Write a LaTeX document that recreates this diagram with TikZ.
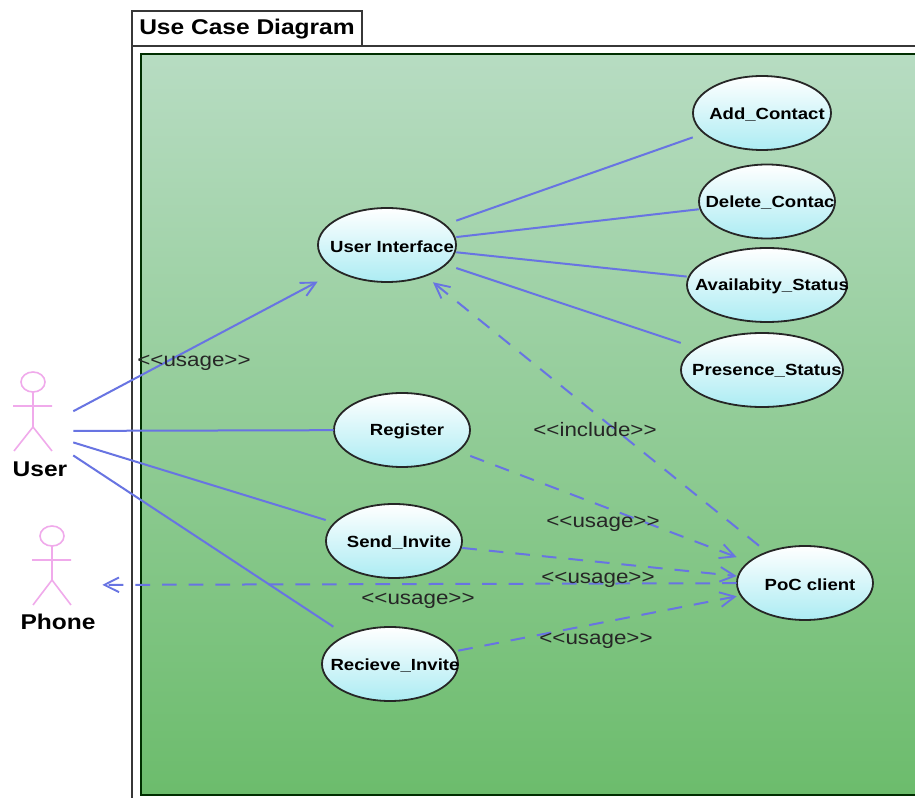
\documentclass[tikz,border=0pt]{standalone}
\usepackage{fontspec}
\setmainfont[FakeStretch=1.15]{Liberation Sans}
\usetikzlibrary{arrows.meta}
\definecolor{linec}{RGB}{104,116,226}
\definecolor{actorc}{RGB}{240,170,235}
\definecolor{topg}{RGB}{183,220,194}
\definecolor{botg}{RGB}{108,188,108}
\definecolor{cyanb}{RGB}{172,236,243}
\definecolor{framec}{RGB}{55,55,55}
\tikzset{
  px/.style={line width=#1*0.75pt},
  uc/.style={rectangle,inner sep=0pt,minimum height=74*0.75pt},
  uctext/.style={font=\bfseries\fontsize{12.1}{13}\selectfont,text=black,inner sep=0pt,yshift=-1pt},
  actorbox/.style={rectangle,inner sep=0pt,minimum height=120*0.75pt},
  actorline/.style={draw=actorc,px=1.6},
  actorname/.style={font=\bfseries\fontsize{16}{18}\selectfont,text=black,inner sep=0pt},
  conn/.style={draw=linec,px=2},
  dep/.style={draw=linec,px=2,dash pattern=on 11pt off 9pt},
  openarrow/.style={-{Straight Barb[length=11pt,width=11pt,line width=1.4pt]}},
  tag/.style={font=\fontsize{14.6}{17}\selectfont,text=black!85,inner sep=0pt},
  framel/.style={draw=framec,px=1.6}
}
\newcommand{\usecase}[6]{%
  \shade[top color=white,bottom color=cyanb,draw=black!85,px=1.8] (#2,#3) ellipse [x radius=#4,y radius=37];
  \node[uc,minimum width=#4*2*0.75pt,label={[uctext,xshift=#6*0.75pt]center:#5}] (#1) at (#2,#3) {};
}
\begin{document}
\begin{tikzpicture}[x=0.75pt,y=-0.75pt]
\useasboundingbox (0,0) rectangle (915,798);
\clip (0,0) rectangle (915,798);
\fill[white] (0,0) rectangle (915,798);
% frame
\draw[framel] (132,798) -- (132,11) -- (362,11) -- (362,46);
\draw[framel] (132,46) -- (916,46);
\node[actorname,anchor=center] (title) at (247,29) {Use Case Diagram};
% green panel
\shade[top color=topg,bottom color=botg] (141,54) rectangle (917,795);
\draw[draw=black!70!green!60!black,px=2] (917,54) -- (141,54) -- (141,795) -- (917,795);
% actors
\draw[actorline] (33,382) ellipse [x radius=12,y radius=10];
\draw[actorline] (33,392) -- (33,427) (13,406) -- (52,406) (14,451) -- (33,427) -- (52,451);
\node[actorname] (username) at (40,469) {User};
\node[actorbox,minimum width=74*0.75pt] (user) at (36,431) {};
\draw[actorline] (52,536) ellipse [x radius=12,y radius=10];
\draw[actorline] (52,546) -- (52,580) (32,560) -- (71,560) (33,605) -- (52,580) -- (71,605);
\node[actorname] (phonename) at (58,622) {Phone};
\node[actorbox,minimum width=88*0.75pt] (phone) at (58,585) {};
% use cases
\usecase{ui}{387}{245}{69}{User Interface}{5}
\usecase{add}{762}{113}{69}{Add\_Contact}{5}
\usecase{del}{767}{201.5}{68}{Delete\_Contac}{3}
\usecase{avail}{767}{285}{80}{Availabity\_Status}{5}
\usecase{pres}{762}{370}{81}{Presence\_Status}{5}
\usecase{reg}{402}{430}{68}{Register}{5}
\usecase{send}{394}{541}{68}{Send\_Invite}{5}
\usecase{recv}{390}{664}{68}{Recieve\_Invite}{5}
\usecase{poc}{805}{583}{68}{PoC client}{5}
% connectors
\draw[conn,openarrow] (user) -- (ui);
\draw[conn] (user) -- (reg);
\draw[conn] (user) -- (send);
\draw[conn] (user) -- (recv);
\draw[conn] (ui) -- (add);
\draw[conn] (ui) -- (del);
\draw[conn] (ui) -- (avail);
\draw[conn] (ui) -- (pres);
\draw[dep,openarrow] (poc) -- (ui);
\draw[dep,openarrow] (reg) -- (poc);
\draw[dep,openarrow] (send) -- (poc);
\draw[dep,openarrow] (recv) -- (poc);
\draw[dep,openarrow] (poc) -- (phone);
% labels
\node[tag] (t1) at (194,363) {<{}<usage>{}>};
\node[tag] (t2) at (595,430) {<{}<include>{}>};
\node[tag] (t3) at (603,524) {<{}<usage>{}>};
\node[tag] (t4) at (598,580) {<{}<usage>{}>};
\node[tag] (t5) at (418,601) {<{}<usage>{}>};
\node[tag] (t6) at (596,641) {<{}<usage>{}>};
\end{tikzpicture}
\end{document}
